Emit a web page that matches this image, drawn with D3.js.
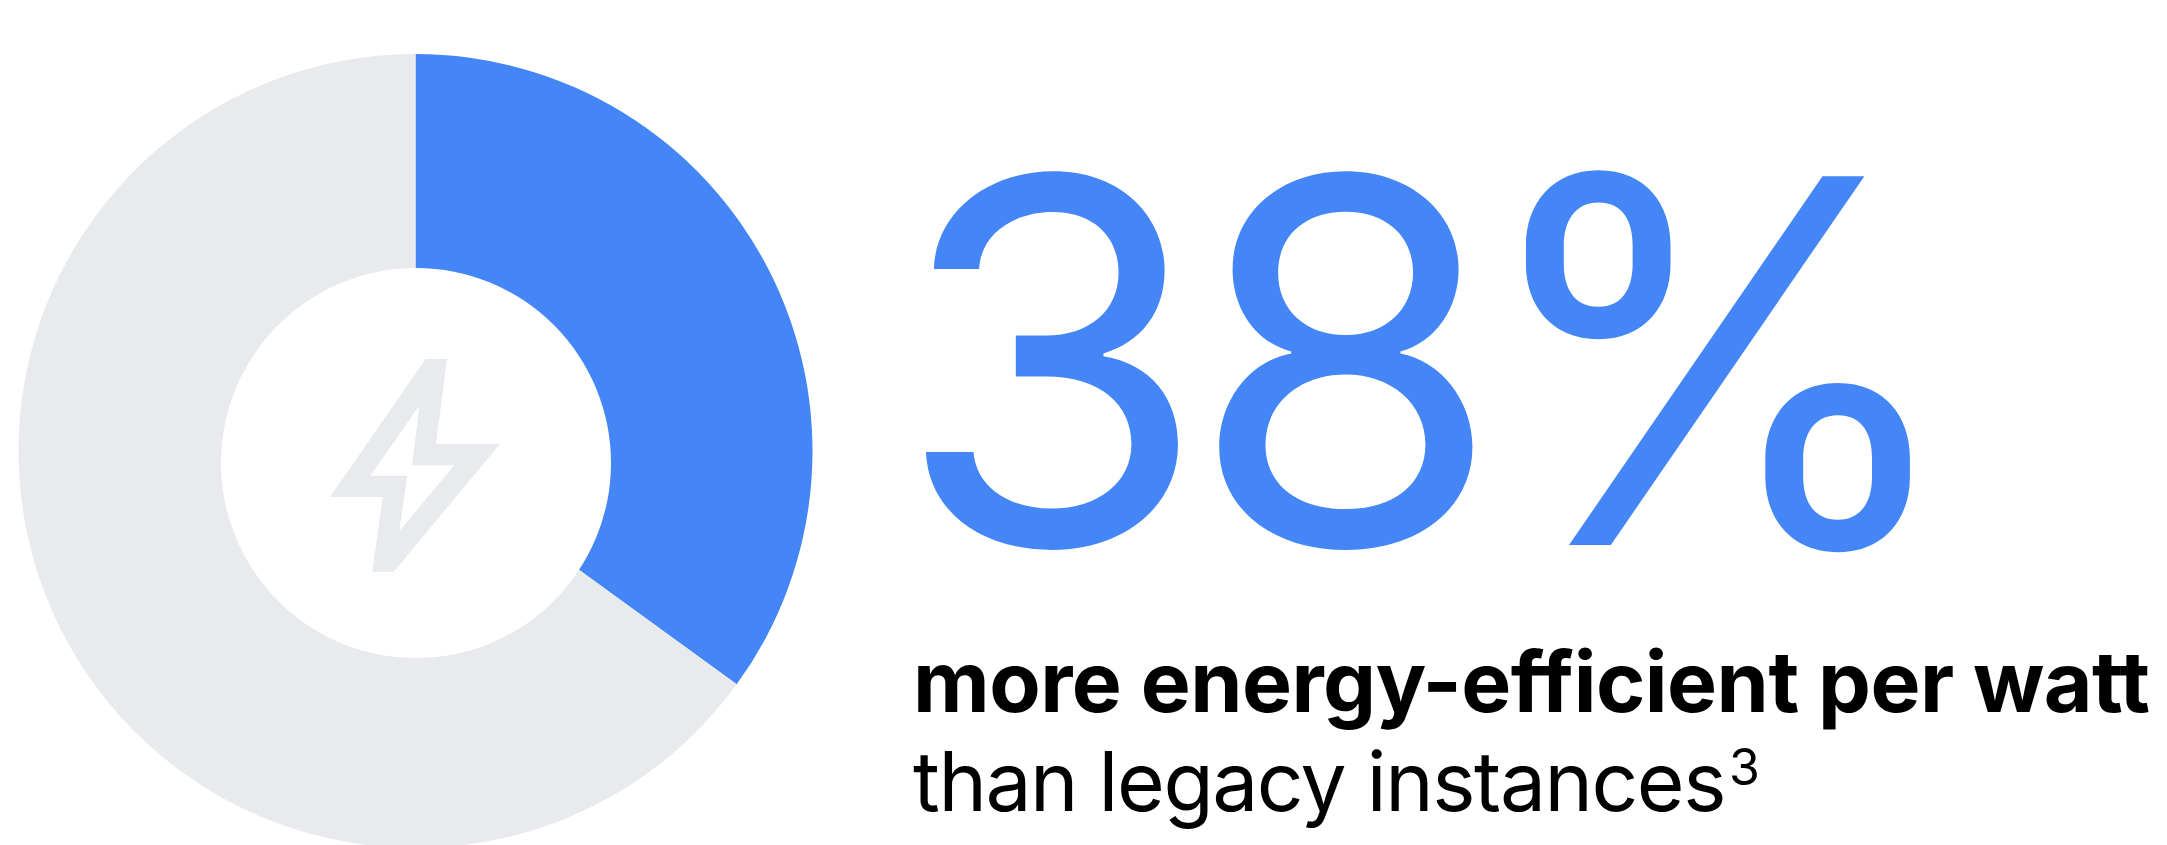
<!DOCTYPE html>
<html><head><meta charset="utf-8">
<script src="https://cdn.jsdelivr.net/npm/d3@7"></script>
<style>html,body{margin:0;padding:0;background:#fff;overflow:hidden}</style>
</head><body>
<svg id="c" width="2167" height="845"></svg>
<script>
const categories = ["Saved", "Remaining"];
const shares = [35, 65];
const sliceColors = ["#4486F6", "#E8EAED"];
const headlineLabel = "38%";
const boldLine = "more energy-efficient per watt";
const plainLine = "than legacy instances";
const footnoteMark = "3";

const svg = d3.select("#c");
const font = "Inter, sans-serif";

const pie = d3.pie().sort(null).value(d => d.v);
const arc = d3.arc().innerRadius(0).outerRadius(397);
const g = svg.append("g").attr("transform", "translate(415.5,451)");
g.selectAll("path").data(pie(categories.map((c,i)=>({c,v:shares[i]})))).join("path")
  .attr("d", arc).attr("fill", (d,i)=>sliceColors[i]);
svg.append("circle").attr("cx",416).attr("cy",463).attr("r",195).attr("fill","#fff");

// bolt icon
const boltOuter = [[425.7,359],[447,359],[436,444],[500,444],[393.7,571.7],[372.3,571.7],[382.7,497],[330,497]];
const boltInner = [[419.3,405.7],[370.3,475.7],[407.3,475.7],[399.3,531],[454.3,465.3],[412,465.3]];
const toPath = p => "M"+p.join("L")+"Z";
svg.append("path").attr("d", toPath(boltOuter)+toPath(boltInner)).attr("fill","#E8EAED").attr("fill-rule","evenodd");

// headline
svg.append("text").text(headlineLabel).attr("x","895 1189 1469").attr("y",545)
  .attr("font-family",font).attr("font-weight",400).attr("font-size",507).attr("fill","#4486F6");

svg.append("text").text(boldLine).attr("x",913).attr("y",712)
  .attr("font-family",font).attr("font-weight",700).attr("font-size",84).attr("textLength",1237).attr("fill","#000");
const t2 = svg.append("text").attr("x",913).attr("y",811)
  .attr("font-family",font).attr("font-weight",400).attr("font-size",82).attr("fill","#000");
t2.append("tspan").text(plainLine).attr("letter-spacing",-1.45);
t2.append("tspan").text(footnoteMark).attr("font-size",50).attr("dy",-26).attr("dx",4);
</script>
</body></html>
